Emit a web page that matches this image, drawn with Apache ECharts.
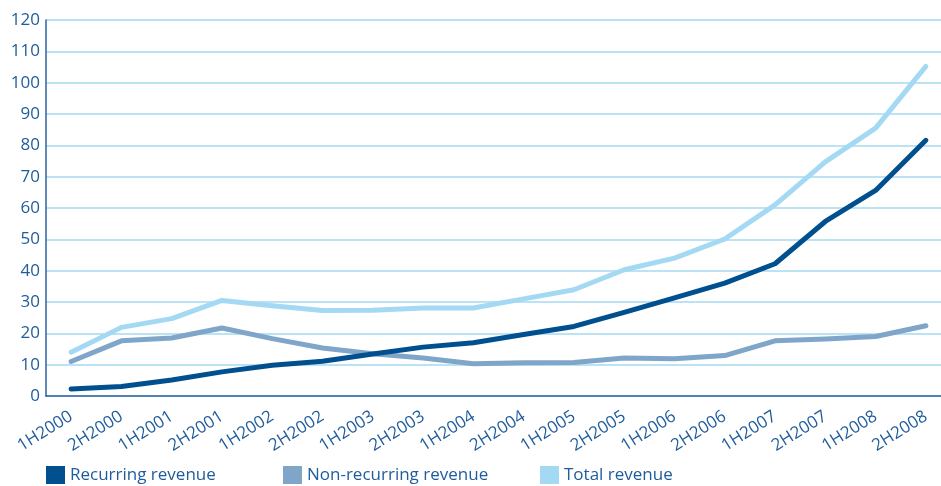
<!DOCTYPE html>
<html>
<head>
<meta charset="utf-8">
<script src="https://cdn.jsdelivr.net/npm/echarts@6/dist/echarts.min.js"></script>
<style>
  html, body { margin: 0; padding: 0; background: #fff; }
  #chart { width: 941px; height: 486px; }
</style>
</head>
<body>
<div id="chart"></div>
<script>
// half-year periods
var periods = ["1H2000", "2H2000", "1H2001", "2H2001", "1H2002", "2H2002", "1H2003", "2H2003", "1H2004",
  "2H2004", "1H2005", "2H2005", "1H2006", "2H2006", "1H2007", "2H2007", "1H2008", "2H2008"];
var recurring = [2.2, 3.0, 5.1, 7.7, 9.8, 11.1, 13.4, 15.6, 17.0, 19.6, 22.2, 26.7, 31.3, 36.0, 42.2, 55.7, 65.6, 81.6];
var nonRecurring = [11.0, 17.6, 18.5, 21.7, 18.3, 15.3, 13.5, 12.1, 10.3, 10.6, 10.7, 12.1, 11.9, 12.9, 17.6, 18.2, 19.0, 22.4];
var total = [14.0, 21.9, 24.7, 30.5, 28.8, 27.3, 27.4, 28.1, 28.1, 31.0, 33.9, 40.3, 44.0, 50.1, 61.0, 74.7, 85.5, 105.2];

var textColor = "#1f5c9b";
var fontFam = "'Open Sans', 'Noto Sans', sans-serif";

var chart = echarts.init(document.getElementById("chart"));

function lineSeries(name, data, color) {
  return {
    name: name,
    type: "line",
    data: data,
    symbol: "none",
    lineStyle: { color: color, width: 5, cap: "round", join: "round" },
    itemStyle: { color: color }
  };
}

function legendAt(left, name) {
  return {
    left: left,
    top: 466,
    data: [name],
    icon: "rect",
    itemWidth: 19,
    itemHeight: 18,
    padding: 0,
    itemGap: 0,
    textStyle: { color: textColor, fontSize: 17, fontFamily: fontFam, padding: [2, 0, 0, 0] }
  };
}

var option = {
  animation: false,
  // plot runs past the right edge, as in the original (cropped) chart
  grid: { left: 46, top: 20, width: 905, bottom: 90, outerBoundsMode: "none", containLabel: false },
  legend: [
    legendAt(46, "Recurring revenue"),
    legendAt(283, "Non-recurring revenue"),
    legendAt(540, "Total revenue")
  ],
  xAxis: {
    type: "category",
    data: periods,
    boundaryGap: true,
    axisLine: { lineStyle: { color: "#2b64a0", width: 1.5 } },
    axisTick: { inside: true, length: 7, lineStyle: { color: "#2b64a0", width: 1.5 } },
    // labels sit a little right of the category centre in the original
    axisLabel: { rotate: 32, color: textColor, fontSize: 17, fontFamily: fontFam, margin: 19,
      padding: [40, 0, 0, 0], interval: 0 }
  },
  yAxis: {
    type: "value",
    min: 0,
    max: 120,
    interval: 10,
    axisLine: { show: true, lineStyle: { color: "#2b64a0", width: 1.5 } },
    axisTick: { show: false },
    axisLabel: { color: textColor, fontSize: 17, fontFamily: fontFam, margin: 6, padding: [5, 0, 0, 0] },
    splitLine: { lineStyle: { color: "#a6d9f2", width: 1.5 } }
  },
  series: [
    lineSeries("Total revenue", total, "#a4d9f3"),
    lineSeries("Non-recurring revenue", nonRecurring, "#7fa6c9"),
    lineSeries("Recurring revenue", recurring, "#00508f")
  ]
};
chart.setOption(option);
</script>
</body>
</html>
